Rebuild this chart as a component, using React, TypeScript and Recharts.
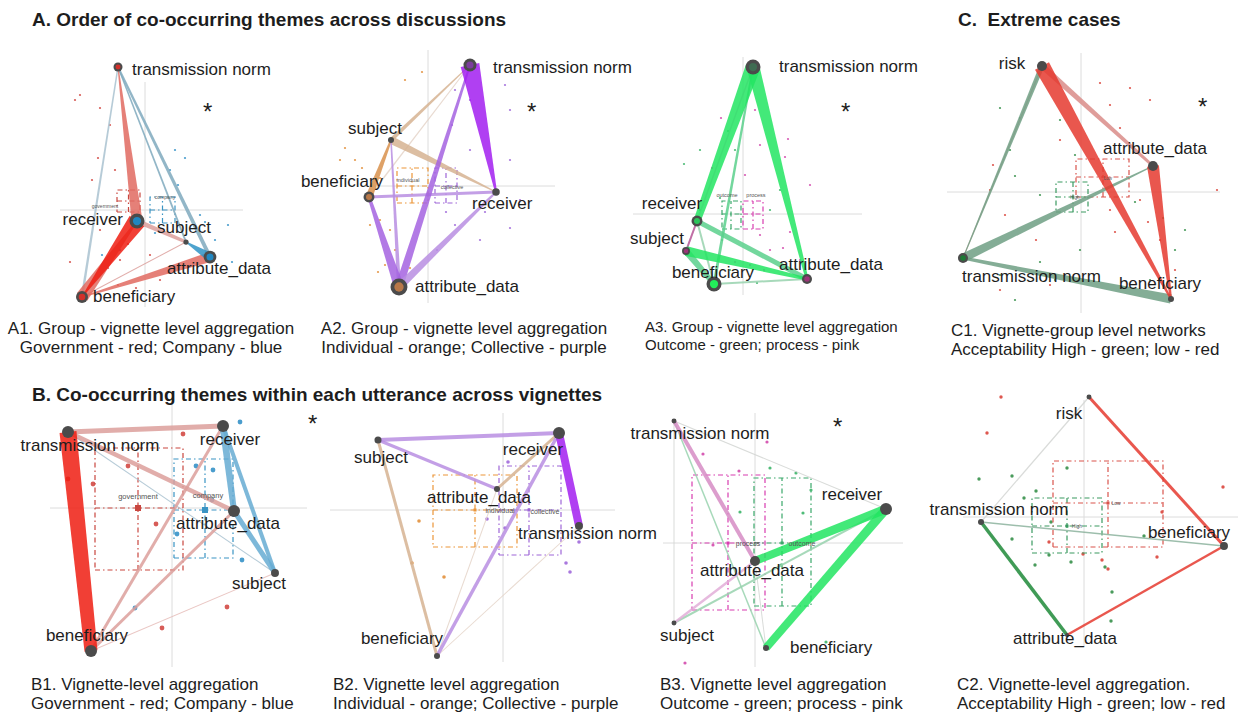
import React from 'react';
import { ScatterChart, Scatter, XAxis, YAxis } from 'recharts';

const FONT = '"Liberation Sans", Arial, Helvetica, sans-serif';
const PX_PER_UNIT = 100;
const NODE_SCALE = 0.75;

type NodeDatum = { id: string; x: number; y: number; strength: number; tone: string };
type EdgeDatum = { from: string; to: string; wFrom: number; wTo: number; tone: string };
type DotDatum = { x: number; y: number; tone: string };
type BoxDatum = {
  name: string; x1: number; x2: number; y1: number; y2: number;
  mx: number; my: number; lx: number; ly: number; tone: string;
};
type TagDatum = { id: string; x: number; y: number; anchor: 'start' | 'middle' | 'end' };

// ---------- colours ----------
const EDGE_COLOR: Record<string, string> = {
  gov: '#ef1d12', govSoft: '#e06a60', govPale: '#dc9f9b', govMist: '#e6bdba',
  com: '#2f93c6', comSoft: '#66acd2', comGray: '#7fa9bd', comMist: '#a9c2d0',
  ind: '#d8904c', indSoft: '#d6b392', indMist: '#e4d4c8',
  col: '#a21ff0', colSoft: '#a463e0', colPale: '#b88ee2',
  out: '#22e562', outSoft: '#5ad08c', outPale: '#98d2ae',
  pro: '#b8609a', proSoft: '#d68cc4', proPale: '#e2aed8',
  high: '#1f8a38', highSoft: '#6e9f84', highPale: '#8cb39d',
  low: '#e53a2f', lowSoft: '#d98c88', lowPale: '#e3aaa8',
  grey: '#d2d5d2',
};
const NODE_FILL: Record<string, string | null> = {
  ink: null,
  govNode: '#d2302a', comNode: '#2187c1',
  indNode: '#b87848', colNode: '#7c3d9c',
  outDark: '#3f6c52', outNode: '#2cc45c', outBright: '#22ee5a', proNode: '#9c3578',
  highNode: '#1c7a35',
};
const DOT_COLOR: Record<string, string> = {
  gov: '#d0403a', com: '#2a8cc4', ind: '#e08a30', col: '#9a60d8',
  out: '#30b060', pro: '#d040a8', high: '#2a8a40', low: '#d83a30',
};
const BOX_COLOR: Record<string, string> = {
  gov: '#c9463f', com: '#3a94c4', ind: '#ec9538', col: '#9e66d8',
  out: '#3aa86a', pro: '#d83cb0', high: '#3a9a60', low: '#d9544c',
};

// ---------- A1 ----------
const a1Nodes: NodeDatum[] = [
  { id: 'transmission norm', x: -0.27, y: 1.43, strength: 6, tone: 'govNode' },
  { id: 'receiver', x: -0.08, y: -0.11, strength: 10, tone: 'comNode' },
  { id: 'subject', x: 0.41, y: -0.32, strength: 3.5, tone: 'ink' },
  { id: 'attribute_data', x: 0.65, y: -0.47, strength: 8.5, tone: 'comNode' },
  { id: 'beneficiary', x: -0.63, y: -0.87, strength: 8, tone: 'govNode' },
];
const a1Edges: EdgeDatum[] = [
  { from: 'transmission norm', to: 'beneficiary', wFrom: 1.5, wTo: 2.5, tone: 'comMist' },
  { from: 'transmission norm', to: 'subject', wFrom: 1.5, wTo: 2, tone: 'comGray' },
  { from: 'transmission norm', to: 'attribute_data', wFrom: 2, wTo: 4, tone: 'comGray' },
  { from: 'transmission norm', to: 'receiver', wFrom: 1, wTo: 11, tone: 'govSoft' },
  { from: 'subject', to: 'beneficiary', wFrom: 1, wTo: 1, tone: 'govPale' },
  { from: 'attribute_data', to: 'beneficiary', wFrom: 10, wTo: 1, tone: 'govSoft' },
  { from: 'receiver', to: 'subject', wFrom: 5, wTo: 3, tone: 'govPale' },
  { from: 'subject', to: 'attribute_data', wFrom: 1, wTo: 9, tone: 'com' },
  { from: 'beneficiary', to: 'receiver', wFrom: 13, wTo: 2, tone: 'govSoft' },
  { from: 'receiver', to: 'beneficiary', wFrom: 18, wTo: 1, tone: 'gov' },
];
const a1Tags: TagDatum[] = [
  { id: 'transmission norm', x: -0.13, y: 1.41, anchor: 'start' },
  { id: 'receiver', x: -0.22, y: -0.09, anchor: 'end' },
  { id: 'subject', x: 0.12, y: -0.17, anchor: 'start' },
  { id: 'attribute_data', x: 0.22, y: -0.58, anchor: 'start' },
  { id: 'beneficiary', x: -0.52, y: -0.86, anchor: 'start' },
];
const a1Dots: DotDatum[] = [
  { x: -0.65, y: 1.15, tone: 'gov' }, { x: -0.7, y: 1.1, tone: 'gov' }, { x: -0.45, y: 1.02, tone: 'gov' },
  { x: -0.35, y: 0.85, tone: 'gov' }, { x: -0.47, y: 0.52, tone: 'gov' }, { x: -0.3, y: 0.4, tone: 'gov' },
  { x: -0.53, y: 0.3, tone: 'gov' }, { x: -0.45, y: -0.2, tone: 'gov' }, { x: -0.17, y: -0.34, tone: 'gov' },
  { x: -0.25, y: -0.5, tone: 'gov' }, { x: 0.15, y: -0.7, tone: 'gov' }, { x: -0.09, y: -0.78, tone: 'gov' },
  { x: -0.37, y: -0.58, tone: 'gov' }, { x: 0.05, y: -0.45, tone: 'gov' }, { x: -0.75, y: -0.52, tone: 'gov' },
  { x: -0.27, y: -0.75, tone: 'gov' },
  { x: 0.25, y: 0.4, tone: 'com' }, { x: 0.3, y: 0.6, tone: 'com' }, { x: 0.55, y: -0.05, tone: 'com' },
  { x: 0.6, y: -0.12, tone: 'com' }, { x: 0.4, y: 0.52, tone: 'com' }, { x: 0.1, y: -0.23, tone: 'com' },
  { x: 0.7, y: -0.3, tone: 'com' }, { x: 0.83, y: -0.15, tone: 'com' }, { x: -0.25, y: -0.4, tone: 'com' },
  { x: -0.43, y: -0.45, tone: 'com' }, { x: 0.33, y: 0.25, tone: 'com' }, { x: 0.87, y: -0.52, tone: 'com' },
];
const a1Boxes: BoxDatum[] = [
  { name: 'government', x1: -0.28, x2: -0.05, y1: -0.02, y2: 0.2, mx: -0.165, my: 0.09, lx: -0.4, ly: 0.04, tone: 'gov' },
  { name: 'company', x1: 0.05, x2: 0.3, y1: -0.13, y2: 0.13, mx: 0.175, my: 0.0, lx: 0.2, ly: 0.13, tone: 'com' },
];

// ---------- A2 ----------
const a2Nodes: NodeDatum[] = [
  { id: 'transmission norm', x: 0.42, y: 1.21, strength: 8.7, tone: 'colNode' },
  { id: 'subject', x: -0.37, y: 0.46, strength: 4, tone: 'ink' },
  { id: 'beneficiary', x: -0.59, y: -0.11, strength: 7.3, tone: 'indNode' },
  { id: 'receiver', x: 0.68, y: -0.06, strength: 5, tone: 'ink' },
  { id: 'attribute_data', x: -0.29, y: -1.01, strength: 11.3, tone: 'indNode' },
];
const a2Edges: EdgeDatum[] = [
  { from: 'transmission norm', to: 'beneficiary', wFrom: 1, wTo: 1.5, tone: 'indMist' },
  { from: 'transmission norm', to: 'subject', wFrom: 1, wTo: 4, tone: 'indSoft' },
  { from: 'subject', to: 'receiver', wFrom: 8, wTo: 1, tone: 'indSoft' },
  { from: 'subject', to: 'beneficiary', wFrom: 2, wTo: 7, tone: 'ind' },
  { from: 'beneficiary', to: 'receiver', wFrom: 3, wTo: 3, tone: 'colPale' },
  { from: 'subject', to: 'attribute_data', wFrom: 1.5, wTo: 4, tone: 'colPale' },
  { from: 'transmission norm', to: 'attribute_data', wFrom: 2, wTo: 8, tone: 'colSoft' },
  { from: 'receiver', to: 'attribute_data', wFrom: 2, wTo: 8, tone: 'colPale' },
  { from: 'beneficiary', to: 'attribute_data', wFrom: 3, wTo: 10, tone: 'colSoft' },
  { from: 'transmission norm', to: 'receiver', wFrom: 19, wTo: 2, tone: 'col' },
];
const a2Tags: TagDatum[] = [
  { id: 'transmission norm', x: 0.65, y: 1.19, anchor: 'start' },
  { id: 'subject', x: -0.53, y: 0.58, anchor: 'middle' },
  { id: 'beneficiary', x: -0.86, y: 0.05, anchor: 'middle' },
  { id: 'receiver', x: 0.44, y: -0.17, anchor: 'start' },
  { id: 'attribute_data', x: -0.13, y: -1.0, anchor: 'start' },
];
const a2Dots: DotDatum[] = [
  { x: -0.06, y: 1.14, tone: 'ind' }, { x: -0.23, y: 1.06, tone: 'ind' }, { x: -0.83, y: 0.38, tone: 'ind' },
  { x: -0.88, y: 0.26, tone: 'ind' }, { x: -0.73, y: 0.26, tone: 'ind' }, { x: -0.66, y: 0.18, tone: 'ind' },
  { x: -0.48, y: 0.08, tone: 'ind' }, { x: -0.48, y: -0.34, tone: 'ind' }, { x: -0.38, y: -0.44, tone: 'ind' },
  { x: -0.58, y: -0.39, tone: 'ind' }, { x: -0.33, y: -0.64, tone: 'ind' }, { x: -0.43, y: -0.79, tone: 'ind' },
  { x: -0.5, y: -0.86, tone: 'ind' }, { x: -0.18, y: -0.82, tone: 'ind' },
  { x: 0.27, y: 0.96, tone: 'col' }, { x: 0.42, y: 0.86, tone: 'col' }, { x: 0.77, y: 1.01, tone: 'col' },
  { x: 0.82, y: 0.76, tone: 'col' }, { x: 0.24, y: 0.61, tone: 'col' }, { x: 0.42, y: 0.36, tone: 'col' },
  { x: 0.82, y: 0.26, tone: 'col' }, { x: 0.18, y: -0.26, tone: 'col' }, { x: 0.27, y: -0.39, tone: 'col' },
  { x: 0.52, y: -0.54, tone: 'col' }, { x: 0.82, y: -0.42, tone: 'col' }, { x: 0.09, y: -0.64, tone: 'col' },
  { x: 0.57, y: -0.26, tone: 'col' }, { x: 0.92, y: -0.14, tone: 'col' },
];
const a2Boxes: BoxDatum[] = [
  { name: 'individual', x1: -0.31, x2: 0.0, y1: -0.17, y2: 0.18, mx: -0.16, my: 0, lx: -0.2, ly: 0.06, tone: 'ind' },
  { name: 'collective', x1: 0.07, x2: 0.29, y1: -0.17, y2: 0.18, mx: 0.18, my: 0, lx: 0.24, ly: -0.01, tone: 'col' },
];

// ---------- A3 ----------
const a3Nodes: NodeDatum[] = [
  { id: 'transmission norm', x: 0.1, y: 1.47, strength: 10, tone: 'outDark' },
  { id: 'receiver', x: -0.46, y: -0.07, strength: 7.3, tone: 'outNode' },
  { id: 'subject', x: -0.57, y: -0.37, strength: 5.3, tone: 'proNode' },
  { id: 'beneficiary', x: -0.29, y: -0.7, strength: 10, tone: 'outBright' },
  { id: 'attribute_data', x: 0.64, y: -0.65, strength: 6.7, tone: 'proNode' },
];
const a3Edges: EdgeDatum[] = [
  { from: 'transmission norm', to: 'subject', wFrom: 1.5, wTo: 1.5, tone: 'proPale' },
  { from: 'transmission norm', to: 'beneficiary', wFrom: 2, wTo: 3, tone: 'outSoft' },
  { from: 'receiver', to: 'subject', wFrom: 2, wTo: 2, tone: 'pro' },
  { from: 'receiver', to: 'beneficiary', wFrom: 2, wTo: 2, tone: 'outPale' },
  { from: 'beneficiary', to: 'attribute_data', wFrom: 2, wTo: 2, tone: 'outPale' },
  { from: 'receiver', to: 'attribute_data', wFrom: 5, wTo: 5, tone: 'outSoft' },
  { from: 'subject', to: 'beneficiary', wFrom: 7, wTo: 5, tone: 'outSoft' },
  { from: 'subject', to: 'attribute_data', wFrom: 10, wTo: 3, tone: 'out' },
  { from: 'transmission norm', to: 'attribute_data', wFrom: 13, wTo: 3, tone: 'out' },
  { from: 'transmission norm', to: 'receiver', wFrom: 15, wTo: 7, tone: 'out' },
];
const a3Tags: TagDatum[] = [
  { id: 'transmission norm', x: 0.36, y: 1.48, anchor: 'start' },
  { id: 'receiver', x: -0.71, y: 0.11, anchor: 'middle' },
  { id: 'subject', x: -0.86, y: -0.24, anchor: 'middle' },
  { id: 'beneficiary', x: -0.3, y: -0.58, anchor: 'middle' },
  { id: 'attribute_data', x: 0.88, y: -0.5, anchor: 'middle' },
];
const a3Dots: DotDatum[] = [
  { x: -0.22, y: 0.96, tone: 'pro' }, { x: 0.12, y: 1.04, tone: 'pro' }, { x: 0.45, y: 0.75, tone: 'pro' },
  { x: 0.17, y: 0.69, tone: 'pro' }, { x: 0.42, y: 0.57, tone: 'pro' }, { x: 0.67, y: 0.29, tone: 'pro' },
  { x: 0.02, y: 0.39, tone: 'pro' }, { x: -0.31, y: 0.46, tone: 'pro' }, { x: 0.17, y: -0.21, tone: 'pro' },
  { x: 0.47, y: -0.18, tone: 'pro' }, { x: 0.4, y: -0.34, tone: 'pro' }, { x: 0.57, y: -0.46, tone: 'pro' },
  { x: 0.07, y: -0.51, tone: 'pro' }, { x: -0.08, y: -0.48, tone: 'pro' }, { x: 0.21, y: -0.56, tone: 'pro' },
  { x: 0.27, y: -0.36, tone: 'pro' },
  { x: -0.59, y: 0.5, tone: 'out' }, { x: -0.43, y: 0.64, tone: 'out' }, { x: -0.15, y: 0.83, tone: 'out' },
  { x: -0.08, y: 0.64, tone: 'out' }, { x: -0.23, y: 0.16, tone: 'out' }, { x: -0.43, y: 0.04, tone: 'out' },
  { x: -0.21, y: -0.26, tone: 'out' }, { x: 0.27, y: 0.04, tone: 'out' }, { x: 0.37, y: 0.24, tone: 'out' },
  { x: -0.13, y: -0.56, tone: 'out' }, { x: 0.14, y: -0.69, tone: 'out' },
];
const a3Boxes: BoxDatum[] = [
  { name: 'outcome', x1: -0.21, x2: -0.02, y1: -0.15, y2: 0.13, mx: -0.12, my: 0, lx: -0.16, ly: 0.19, tone: 'out' },
  { name: 'process', x1: 0.0, x2: 0.2, y1: -0.15, y2: 0.13, mx: 0.1, my: 0, lx: 0.13, ly: 0.19, tone: 'pro' },
];

// ---------- C1 ----------
const c1Nodes: NodeDatum[] = [
  { id: 'risk', x: -0.39, y: 1.26, strength: 6.7, tone: 'ink' },
  { id: 'attribute_data', x: 0.72, y: 0.26, strength: 6.7, tone: 'ink' },
  { id: 'transmission norm', x: -1.18, y: -0.66, strength: 6.7, tone: 'highNode' },
  { id: 'beneficiary', x: 0.9, y: -1.07, strength: 4, tone: 'ink' },
];
const c1Edges: EdgeDatum[] = [
  { from: 'transmission norm', to: 'risk', wFrom: 1, wTo: 1.5, tone: 'lowPale' },
  { from: 'risk', to: 'transmission norm', wFrom: 5, wTo: 1, tone: 'highSoft' },
  { from: 'transmission norm', to: 'attribute_data', wFrom: 9, wTo: 1, tone: 'highSoft' },
  { from: 'beneficiary', to: 'transmission norm', wFrom: 9, wTo: 3, tone: 'highSoft' },
  { from: 'risk', to: 'attribute_data', wFrom: 6, wTo: 3, tone: 'lowSoft' },
  { from: 'attribute_data', to: 'beneficiary', wFrom: 12, wTo: 2, tone: 'low' },
  { from: 'risk', to: 'beneficiary', wFrom: 16, wTo: 2, tone: 'low' },
];
const c1Tags: TagDatum[] = [
  { id: 'risk', x: -0.69, y: 1.29, anchor: 'middle' },
  { id: 'attribute_data', x: 0.74, y: 0.44, anchor: 'middle' },
  { id: 'transmission norm', x: -1.19, y: -0.84, anchor: 'start' },
  { id: 'beneficiary', x: 0.79, y: -0.91, anchor: 'middle' },
];
const c1Dots: DotDatum[] = [
  { x: 0.19, y: 1.09, tone: 'low' }, { x: 0.29, y: 0.87, tone: 'low' }, { x: 0.49, y: 1.04, tone: 'low' },
  { x: 0.69, y: 0.92, tone: 'low' }, { x: 0.39, y: 0.64, tone: 'low' }, { x: -0.21, y: 0.52, tone: 'low' },
  { x: -0.88, y: 0.27, tone: 'low' }, { x: -0.91, y: 0.02, tone: 'low' }, { x: 0.29, y: -0.18, tone: 'low' },
  { x: 0.34, y: -0.4, tone: 'low' }, { x: 0.67, y: -0.3, tone: 'low' }, { x: 0.79, y: -0.48, tone: 'low' },
  { x: 0.94, y: -0.78, tone: 'low' }, { x: -0.45, y: -0.48, tone: 'low' }, { x: -0.76, y: -0.23, tone: 'low' },
  { x: -0.81, y: -0.98, tone: 'low' }, { x: -0.31, y: -0.93, tone: 'low' }, { x: 0.59, y: -0.08, tone: 'low' },
  { x: 1.36, y: 0.02, tone: 'low' },
  { x: -0.81, y: 0.84, tone: 'high' }, { x: -0.61, y: 0.74, tone: 'high' }, { x: -0.21, y: 0.72, tone: 'high' },
  { x: -0.71, y: 0.42, tone: 'high' }, { x: -0.06, y: 0.37, tone: 'high' }, { x: -0.66, y: 0.16, tone: 'high' },
  { x: -0.41, y: -0.03, tone: 'high' }, { x: 0.54, y: -0.1, tone: 'high' }, { x: 0.82, y: -0.26, tone: 'high' },
  { x: 1.04, y: -0.38, tone: 'high' }, { x: 0.94, y: -0.58, tone: 'high' }, { x: -0.01, y: -0.58, tone: 'high' },
  { x: -0.41, y: -0.7, tone: 'high' }, { x: -0.26, y: -0.88, tone: 'high' }, { x: -0.81, y: -0.83, tone: 'high' },
  { x: -0.66, y: -1.08, tone: 'high' }, { x: 0.69, y: -0.88, tone: 'high' },
];
const c1Boxes: BoxDatum[] = [
  { name: 'Low', x1: -0.05, x2: 0.48, y1: -0.05, y2: 0.33, mx: 0.22, my: 0.15, lx: 0.27, ly: 0.14, tone: 'low' },
  { name: 'High', x1: -0.25, x2: 0.07, y1: -0.2, y2: 0.1, mx: -0.08, my: -0.05, lx: -0.06, ly: -0.05, tone: 'high' },
];

// ---------- B1 ----------
const b1Nodes: NodeDatum[] = [
  { id: 'transmission norm', x: -1.04, y: 0.76, strength: 8, tone: 'ink' },
  { id: 'receiver', x: 0.51, y: 0.82, strength: 8, tone: 'ink' },
  { id: 'attribute_data', x: 0.62, y: -0.03, strength: 8, tone: 'ink' },
  { id: 'subject', x: 1.03, y: -0.65, strength: 5.3, tone: 'ink' },
  { id: 'beneficiary', x: -0.81, y: -1.43, strength: 8, tone: 'ink' },
];
const b1Edges: EdgeDatum[] = [
  { from: 'transmission norm', to: 'subject', wFrom: 1, wTo: 1, tone: 'comMist' },
  { from: 'subject', to: 'beneficiary', wFrom: 1, wTo: 1, tone: 'govMist' },
  { from: 'receiver', to: 'beneficiary', wFrom: 3, wTo: 3, tone: 'govPale' },
  { from: 'attribute_data', to: 'beneficiary', wFrom: 3, wTo: 3, tone: 'govPale' },
  { from: 'transmission norm', to: 'attribute_data', wFrom: 4.5, wTo: 4.5, tone: 'govPale' },
  { from: 'transmission norm', to: 'receiver', wFrom: 5, wTo: 5, tone: 'govPale' },
  { from: 'receiver', to: 'subject', wFrom: 4, wTo: 4, tone: 'comSoft' },
  { from: 'attribute_data', to: 'subject', wFrom: 5, wTo: 5, tone: 'comSoft' },
  { from: 'receiver', to: 'attribute_data', wFrom: 7, wTo: 6, tone: 'comSoft' },
  { from: 'transmission norm', to: 'beneficiary', wFrom: 17, wTo: 13, tone: 'gov' },
];
const b1Tags: TagDatum[] = [
  { id: 'transmission norm', x: -0.82, y: 0.63, anchor: 'middle' },
  { id: 'receiver', x: 0.58, y: 0.69, anchor: 'middle' },
  { id: 'attribute_data', x: 0.56, y: -0.15, anchor: 'middle' },
  { id: 'subject', x: 0.87, y: -0.75, anchor: 'middle' },
  { id: 'beneficiary', x: -0.85, y: -1.27, anchor: 'middle' },
];
const b1Dots: DotDatum[] = [
  { x: 0.11, y: 0.74, tone: 'gov' }, { x: -0.44, y: 0.42, tone: 'gov' }, { x: -0.79, y: 0.24, tone: 'gov' },
  { x: -1.04, y: 0.29, tone: 'gov' }, { x: -0.16, y: -0.16, tone: 'gov' }, { x: 0.55, y: -0.99, tone: 'gov' },
  { x: -0.1, y: -1.2, tone: 'gov' },
  { x: 0.68, y: 0.86, tone: 'com' }, { x: 0.24, y: 0.42, tone: 'com' }, { x: 0.41, y: 0.38, tone: 'com' },
  { x: 0.4, y: 0.08, tone: 'com' }, { x: 0.05, y: -0.26, tone: 'com' }, { x: 0.7, y: -0.52, tone: 'com' },
  { x: -0.37, y: -1.0, tone: 'com' },
];
const b1Boxes: BoxDatum[] = [
  { name: 'government', x1: -0.77, x2: 0.11, y1: -0.62, y2: 0.6, mx: -0.34, my: 0, lx: -0.34, ly: 0.12, tone: 'gov' },
  { name: 'company', x1: 0.02, x2: 0.61, y1: -0.5, y2: 0.49, mx: 0.33, my: -0.02, lx: 0.36, ly: 0.13, tone: 'com' },
];

// ---------- B2 ----------
const b2Nodes: NodeDatum[] = [
  { id: 'subject', x: -1.25, y: 0.7, strength: 4.7, tone: 'ink' },
  { id: 'receiver', x: 0.56, y: 0.77, strength: 8, tone: 'ink' },
  { id: 'attribute_data', x: -0.06, y: 0.21, strength: 4, tone: 'ink' },
  { id: 'transmission norm', x: 0.76, y: -0.16, strength: 5.3, tone: 'ink' },
  { id: 'beneficiary', x: -0.66, y: -1.46, strength: 4, tone: 'ink' },
];
const b2Edges: EdgeDatum[] = [
  { from: 'attribute_data', to: 'beneficiary', wFrom: 1, wTo: 1, tone: 'indMist' },
  { from: 'transmission norm', to: 'beneficiary', wFrom: 1, wTo: 1, tone: 'indMist' },
  { from: 'subject', to: 'beneficiary', wFrom: 3, wTo: 3, tone: 'indSoft' },
  { from: 'attribute_data', to: 'receiver', wFrom: 3, wTo: 3, tone: 'indSoft' },
  { from: 'subject', to: 'attribute_data', wFrom: 3, wTo: 3, tone: 'colPale' },
  { from: 'receiver', to: 'beneficiary', wFrom: 3.5, wTo: 3.5, tone: 'colPale' },
  { from: 'subject', to: 'receiver', wFrom: 4, wTo: 4, tone: 'colPale' },
  { from: 'receiver', to: 'transmission norm', wFrom: 8, wTo: 8, tone: 'col' },
];
const b2Tags: TagDatum[] = [
  { id: 'subject', x: -1.22, y: 0.53, anchor: 'middle' },
  { id: 'receiver', x: 0.3, y: 0.61, anchor: 'middle' },
  { id: 'attribute_data', x: -0.24, y: 0.13, anchor: 'middle' },
  { id: 'transmission norm', x: 0.15, y: -0.23, anchor: 'start' },
  { id: 'beneficiary', x: -1.01, y: -1.28, anchor: 'middle' },
];
const b2Dots: DotDatum[] = [
  { x: -0.84, y: -0.11, tone: 'ind' }, { x: -0.91, y: -0.53, tone: 'ind' }, { x: -0.59, y: -0.67, tone: 'ind' },
  { x: 0.05, y: 0.48, tone: 'col' }, { x: -0.16, y: -0.09, tone: 'col' }, { x: 0.02, y: -0.18, tone: 'col' },
  { x: 0.63, y: -0.53, tone: 'col' }, { x: 0.67, y: -0.62, tone: 'col' }, { x: 0.76, y: -0.32, tone: 'col' },
];
const b2Boxes: BoxDatum[] = [
  { name: 'individual', x1: -0.7, x2: 0.14, y1: -0.37, y2: 0.35, mx: -0.28, my: 0, lx: -0.03, ly: 0, tone: 'ind' },
  { name: 'collective', x1: -0.04, x2: 0.58, y1: -0.45, y2: 0.44, mx: 0.26, my: 0, lx: 0.42, ly: -0.01, tone: 'col' },
];

// ---------- B3 ----------
const b3Nodes: NodeDatum[] = [
  { id: 'transmission norm', x: -0.81, y: 1.22, strength: 3.3, tone: 'ink' },
  { id: 'receiver', x: 1.31, y: 0.34, strength: 8, tone: 'ink' },
  { id: 'attribute_data', x: 0.0, y: -0.18, strength: 6.7, tone: 'ink' },
  { id: 'subject', x: -0.81, y: -0.8, strength: 3.3, tone: 'ink' },
  { id: 'beneficiary', x: 0.11, y: -1.05, strength: 4, tone: 'ink' },
];
const b3Edges: EdgeDatum[] = [
  { from: 'transmission norm', to: 'subject', wFrom: 1, wTo: 1, tone: 'grey' },
  { from: 'transmission norm', to: 'receiver', wFrom: 1, wTo: 1, tone: 'grey' },
  { from: 'attribute_data', to: 'beneficiary', wFrom: 1, wTo: 1, tone: 'grey' },
  { from: 'transmission norm', to: 'beneficiary', wFrom: 1.5, wTo: 1.5, tone: 'outPale' },
  { from: 'subject', to: 'receiver', wFrom: 2, wTo: 2, tone: 'outPale' },
  { from: 'subject', to: 'attribute_data', wFrom: 2.5, wTo: 2.5, tone: 'proPale' },
  { from: 'transmission norm', to: 'attribute_data', wFrom: 4, wTo: 4, tone: 'proSoft' },
  { from: 'receiver', to: 'beneficiary', wFrom: 9, wTo: 8, tone: 'out' },
  { from: 'attribute_data', to: 'receiver', wFrom: 8, wTo: 9, tone: 'out' },
];
const b3Tags: TagDatum[] = [
  { id: 'transmission norm', x: -0.55, y: 1.1, anchor: 'middle' },
  { id: 'receiver', x: 0.97, y: 0.49, anchor: 'middle' },
  { id: 'attribute_data', x: -0.03, y: -0.27, anchor: 'middle' },
  { id: 'subject', x: -0.68, y: -0.92, anchor: 'middle' },
  { id: 'beneficiary', x: 0.35, y: -1.04, anchor: 'start' },
];
const b3Dots: DotDatum[] = [
  { x: 0.12, y: 1.01, tone: 'pro' }, { x: -0.52, y: 0.89, tone: 'pro' }, { x: -0.16, y: 0.72, tone: 'pro' },
  { x: -0.7, y: -1.2, tone: 'pro' }, { x: -0.42, y: -0.02, tone: 'pro' },
  { x: -0.15, y: 0.31, tone: 'out' }, { x: 0.48, y: 0.3, tone: 'out' }, { x: 0.56, y: 0.53, tone: 'out' },
  { x: 0.41, y: 0.7, tone: 'out' }, { x: 0.26, y: -0.22, tone: 'out' }, { x: 0.71, y: -0.99, tone: 'out' },
  { x: 0.15, y: 0.75, tone: 'out' },
];
const b3Boxes: BoxDatum[] = [
  { name: 'process', x1: -0.63, x2: 0.1, y1: -0.67, y2: 0.68, mx: -0.27, my: 0, lx: -0.07, ly: 0, tone: 'pro' },
  { name: 'outcome', x1: -0.01, x2: 0.56, y1: -0.63, y2: 0.65, mx: 0.27, my: 0, lx: 0.47, ly: 0, tone: 'out' },
];

// ---------- C2 ----------
const c2Nodes: NodeDatum[] = [
  { id: 'risk', x: 0.05, y: 1.2, strength: 3.3, tone: 'ink' },
  { id: 'transmission norm', x: -1.03, y: -0.05, strength: 4, tone: 'ink' },
  { id: 'beneficiary', x: 1.4, y: -0.29, strength: 5.3, tone: 'ink' },
  { id: 'attribute_data', x: -0.17, y: -1.18, strength: 2.7, tone: 'ink' },
];
const c2Edges: EdgeDatum[] = [
  { from: 'transmission norm', to: 'risk', wFrom: 1.2, wTo: 1.2, tone: 'grey' },
  { from: 'transmission norm', to: 'beneficiary', wFrom: 1.5, wTo: 1.5, tone: 'highPale' },
  { from: 'transmission norm', to: 'attribute_data', wFrom: 3.5, wTo: 3.5, tone: 'high' },
  { from: 'risk', to: 'beneficiary', wFrom: 3, wTo: 3, tone: 'low' },
  { from: 'beneficiary', to: 'attribute_data', wFrom: 2.5, wTo: 2.5, tone: 'low' },
];
const c2Tags: TagDatum[] = [
  { id: 'risk', x: -0.15, y: 1.04, anchor: 'middle' },
  { id: 'transmission norm', x: -0.85, y: 0.08, anchor: 'middle' },
  { id: 'beneficiary', x: 1.05, y: -0.15, anchor: 'middle' },
  { id: 'attribute_data', x: -0.19, y: -1.21, anchor: 'middle' },
];
const c2Dots: DotDatum[] = [
  { x: -0.83, y: 1.2, tone: 'low' }, { x: -0.97, y: 0.84, tone: 'low' }, { x: 1.39, y: 0.3, tone: 'low' },
  { x: -0.35, y: -0.25, tone: 'low' }, { x: -0.01, y: -0.37, tone: 'low' }, { x: 0.18, y: -0.43, tone: 'low' },
  { x: 0.24, y: -0.52, tone: 'low' }, { x: 0.73, y: -0.4, tone: 'low' }, { x: 0.78, y: 0.05, tone: 'low' },
  { x: -0.17, y: 0.49, tone: 'high' }, { x: -1.05, y: 0.38, tone: 'high' }, { x: -0.72, y: 0.41, tone: 'high' },
  { x: -0.48, y: 0.26, tone: 'high' }, { x: -0.6, y: 0.19, tone: 'high' }, { x: -0.33, y: -0.05, tone: 'high' },
  { x: -0.72, y: -0.22, tone: 'high' }, { x: -0.49, y: -0.48, tone: 'high' }, { x: -0.13, y: -0.45, tone: 'high' },
  { x: 0.28, y: -0.75, tone: 'high' }, { x: 0.27, y: -1.04, tone: 'high' }, { x: 0.6, y: -0.19, tone: 'high' },
  { x: -0.35, y: -0.38, tone: 'high' }, { x: 0.21, y: -0.5, tone: 'high' },
];
const c2Boxes: BoxDatum[] = [
  { name: 'Low', x1: -0.31, x2: 0.79, y1: -0.3, y2: 0.56, mx: 0.24, my: 0.14, lx: 0.32, ly: 0.14, tone: 'low' },
  { name: 'High', x1: -0.52, x2: 0.18, y1: -0.36, y2: 0.19, mx: -0.17, my: -0.09, lx: -0.07, ly: -0.09, tone: 'high' },
];

// ---------- page text ----------
const TITLES = [
  { text: 'A. Order of co-occurring themes across discussions', left: 32, top: 9 },
  { text: 'C.  Extreme cases', left: 958, top: 9 },
  { text: 'B. Co-occurring themes within each utterance across vignettes', left: 32, top: 384 },
];
const CAPTIONS = [
  { lines: ['A1. Group - vignette level aggregation', 'Government - red; Company - blue'], left: 0, width: 302, top: 318.5, align: 'center', size: 17, lh: 19 },
  { lines: ['A2. Group - vignette level aggregation', 'Individual - orange; Collective - purple'], left: 313, width: 302, top: 318.5, align: 'center', size: 17, lh: 19 },
  { lines: ['A3. Group - vignette level aggregation', 'Outcome - green; process - pink'], left: 645, width: 290, top: 318, align: 'left', size: 15, lh: 18 },
  { lines: ['C1. Vignette-group level networks', 'Acceptability High - green; low - red'], left: 951, width: 287, top: 320.5, align: 'left', size: 17, lh: 19 },
  { lines: ['B1. Vignette-level aggregation', 'Government - red; Company - blue'], left: 31, width: 290, top: 674.5, align: 'left', size: 17, lh: 19 },
  { lines: ['B2. Vignette level aggregation', 'Individual - orange; Collective - purple'], left: 333, width: 290, top: 674.5, align: 'left', size: 17, lh: 19 },
  { lines: ['B3. Vignette level aggregation', 'Outcome - green; process - pink'], left: 660, width: 280, top: 674.5, align: 'left', size: 17, lh: 19 },
  { lines: ['C2. Vignette-level aggregation.', 'Acceptability High - green; low - red'], left: 957, width: 281, top: 674.5, align: 'left', size: 17, lh: 19 },
];
const STARS = [
  { x: 208, y: 107 }, { x: 532, y: 107 }, { x: 846, y: 107 }, { x: 1203, y: 102 },
  { x: 313, y: 419 }, { x: 838, y: 422 },
];

type PanelSpec = {
  frame: { left: number; top: number; width: number; height: number; ox: number; oy: number };
  cross: { x0: number; x1: number; y0: number; y1: number };
  nodes: NodeDatum[]; edges: EdgeDatum[]; dots: DotDatum[]; boxes: BoxDatum[]; tags: TagDatum[];
  dotR: number; boxFont: number; markSize: number;
};

const PANELS: PanelSpec[] = [
  { frame: { left: 0, top: 40, width: 310, height: 275, ox: 145, oy: 210 }, cross: { x0: -0.85, x1: 0.98, y0: -0.97, y1: 1.28 },
    nodes: a1Nodes, edges: a1Edges, dots: a1Dots, boxes: a1Boxes, tags: a1Tags, dotR: 1.1, boxFont: 5, markSize: 0 },
  { frame: { left: 290, top: 40, width: 350, height: 275, ox: 428, oy: 186 }, cross: { x0: -0.63, x1: 1.27, y0: -1.17, y1: 1.36 },
    nodes: a2Nodes, edges: a2Edges, dots: a2Dots, boxes: a2Boxes, tags: a2Tags, dotR: 1.1, boxFont: 5.5, markSize: 0 },
  { frame: { left: 620, top: 40, width: 315, height: 275, ox: 743, oy: 214 }, cross: { x0: -1.1, x1: 1.19, y0: -0.81, y1: 1.57 },
    nodes: a3Nodes, edges: a3Edges, dots: a3Dots, boxes: a3Boxes, tags: a3Tags, dotR: 1.1, boxFont: 5.5, markSize: 0 },
  { frame: { left: 935, top: 40, width: 300, height: 275, ox: 1081, oy: 192 }, cross: { x0: -1.34, x1: 1.39, y0: -1.21, y1: 1.39 },
    nodes: c1Nodes, edges: c1Edges, dots: c1Dots, boxes: c1Boxes, tags: c1Tags, dotR: 1.1, boxFont: 4.5, markSize: 1.5 },
  { frame: { left: 0, top: 405, width: 320, height: 265, ox: 172, oy: 508 }, cross: { x0: -1.22, x1: 1.35, y0: -1.59, y1: 1.05 },
    nodes: b1Nodes, edges: b1Edges, dots: b1Dots, boxes: b1Boxes, tags: b1Tags, dotR: 2.4, boxFont: 7.5, markSize: 6 },
  { frame: { left: 320, top: 405, width: 345, height: 265, ox: 503, oy: 510 }, cross: { x0: -1.73, x1: 1.12, y0: -1.52, y1: 0.97 },
    nodes: b2Nodes, edges: b2Edges, dots: b2Dots, boxes: b2Boxes, tags: b2Tags, dotR: 1.8, boxFont: 7, markSize: 3 },
  { frame: { left: 625, top: 405, width: 310, height: 265, ox: 755, oy: 543 }, cross: { x0: -0.92, x1: 1.48, y0: -1.24, y1: 1.3 },
    nodes: b3Nodes, edges: b3Edges, dots: b3Dots, boxes: b3Boxes, tags: b3Tags, dotR: 1.6, boxFont: 7, markSize: 3 },
  { frame: { left: 915, top: 385, width: 323, height: 280, ox: 1084, oy: 517 }, cross: { x0: -1.21, x1: 1.54, y0: -1.3, y1: 1.17 },
    nodes: c2Nodes, edges: c2Edges, dots: c2Dots, boxes: c2Boxes, tags: c2Tags, dotR: 1.7, boxFont: 5, markSize: 3 },
];

// ---------- glyphs ----------
const Hidden = () => <g />;

// A directed edge drawn as a band that narrows or widens from its source to its target.
const taperedEdge = (e: EdgeDatum) => (props: any) => {
  const pts = props.points;
  if (!pts || pts.length < 2) return <g />;
  const a = pts[0];
  const b = pts[1];
  const dx = b.x - a.x;
  const dy = b.y - a.y;
  const len = Math.hypot(dx, dy) || 1;
  const nx = -dy / len;
  const ny = dx / len;
  const h0 = e.wFrom / 2;
  const h1 = e.wTo / 2;
  const d = `M${a.x + nx * h0},${a.y + ny * h0}L${b.x + nx * h1},${b.y + ny * h1}` +
    `L${b.x - nx * h1},${b.y - ny * h1}L${a.x - nx * h0},${a.y - ny * h0}Z`;
  return <path d={d} fill={EDGE_COLOR[e.tone]} fillOpacity={0.85} stroke="none" />;
};

const NodeGlyph = (p: any) => {
  const r = p.payload.strength * NODE_SCALE;
  const inner = NODE_FILL[p.payload.tone];
  return (
    <g>
      <circle cx={p.cx} cy={p.cy} r={r} fill="#4b4b4b" />
      {inner ? <circle cx={p.cx} cy={p.cy} r={r * 0.55} fill={inner} /> : null}
    </g>
  );
};

const TagGlyph = (p: any) => (
  <text x={p.cx} y={p.cy} textAnchor={p.payload.anchor} dominantBaseline="central"
    fontSize={17} fontFamily={FONT} fill="#1d1d1d">{p.payload.id}</text>
);

function Panel({ spec }: { spec: PanelSpec }) {
  const { frame, cross, nodes, edges, dots, boxes, tags, dotR, boxFont, markSize } = spec;
  const { left, top, width, height, ox, oy } = frame;
  const xDomain = [(left - ox) / PX_PER_UNIT, (left + width - ox) / PX_PER_UNIT];
  const yDomain = [(oy - top - height) / PX_PER_UNIT, (oy - top) / PX_PER_UNIT];
  const byId = new Map(nodes.map((n) => [n.id, n]));
  const dotTones = Array.from(new Set(dots.map((d) => d.tone)));
  const dash = '5 3 1.5 3';

  const dotGlyph = (tone: string) => (p: any) => (
    <circle cx={p.cx} cy={p.cy} r={dotR} fill={DOT_COLOR[tone]} fillOpacity={0.85} />
  );
  const markGlyph = (p: any) => markSize > 0 ? (
    <rect x={p.cx - markSize / 2} y={p.cy - markSize / 2} width={markSize} height={markSize}
      fill={BOX_COLOR[p.payload.tone]} />
  ) : <g />;
  const boxLabel = (p: any) => (
    <text x={p.cx} y={p.cy} textAnchor="middle" dominantBaseline="central" fontSize={boxFont}
      fontFamily={FONT} fill="#555">{p.payload.name}</text>
  );

  return (
    <div style={{ position: 'absolute', left, top, width, height }}>
      <ScatterChart width={width} height={height} margin={{ top: 0, right: 0, bottom: 0, left: 0 }}>
        <XAxis type="number" dataKey="x" domain={xDomain} hide allowDataOverflow />
        <YAxis type="number" dataKey="y" domain={yDomain} hide allowDataOverflow />
        <Scatter data={[{ x: 0, y: cross.y0 }, { x: 0, y: cross.y1 }]} shape={Hidden}
          line={{ stroke: '#dcdcdc', strokeWidth: 1 }} isAnimationActive={false} />
        <Scatter data={[{ x: cross.x0, y: 0 }, { x: cross.x1, y: 0 }]} shape={Hidden}
          line={{ stroke: '#dcdcdc', strokeWidth: 1 }} isAnimationActive={false} />
        {dotTones.map((t) => (
          <Scatter key={`d-${t}`} data={dots.filter((d) => d.tone === t)} shape={dotGlyph(t)} isAnimationActive={false} />
        ))}
        {boxes.map((b) => (
          <Scatter key={`bo-${b.name}`} shape={Hidden} isAnimationActive={false}
            data={[{ x: b.x1, y: b.y1 }, { x: b.x2, y: b.y1 }, { x: b.x2, y: b.y2 }, { x: b.x1, y: b.y2 }, { x: b.x1, y: b.y1 }]}
            line={{ stroke: BOX_COLOR[b.tone], strokeWidth: 1.2, strokeDasharray: dash }} />
        ))}
        {boxes.map((b) => (
          <Scatter key={`bv-${b.name}`} shape={Hidden} isAnimationActive={false}
            data={[{ x: b.mx, y: b.y1 }, { x: b.mx, y: b.y2 }]}
            line={{ stroke: BOX_COLOR[b.tone], strokeWidth: 1.2, strokeDasharray: dash }} />
        ))}
        {boxes.map((b) => (
          <Scatter key={`bh-${b.name}`} shape={Hidden} isAnimationActive={false}
            data={[{ x: b.x1, y: b.my }, { x: b.x2, y: b.my }]}
            line={{ stroke: BOX_COLOR[b.tone], strokeWidth: 1.2, strokeDasharray: dash }} />
        ))}
        <Scatter data={boxes.map((b) => ({ x: b.mx, y: b.my, tone: b.tone }))} shape={markGlyph} isAnimationActive={false} />
        {edges.map((e, i) => {
          const a = byId.get(e.from)!;
          const b = byId.get(e.to)!;
          return (
            <Scatter key={`e-${i}`} data={[{ x: a.x, y: a.y }, { x: b.x, y: b.y }]}
              shape={Hidden} line={taperedEdge(e)} isAnimationActive={false} />
          );
        })}
        <Scatter data={nodes} shape={NodeGlyph} isAnimationActive={false} />
        <Scatter data={boxes.map((b) => ({ x: b.lx, y: b.ly, name: b.name }))} shape={boxLabel} isAnimationActive={false} />
        <Scatter data={tags} shape={TagGlyph} isAnimationActive={false} />
      </ScatterChart>
    </div>
  );
}

export default function App() {
  return (
    <div style={{ position: 'absolute', left: 0, top: 0, width: 1238, height: 713, background: '#fff', fontFamily: FONT, color: '#1d1d1d', overflow: 'hidden' }}>
      {TITLES.map((t) => (
        <div key={t.text} style={{ position: 'absolute', left: t.left, top: t.top, fontSize: 19, lineHeight: '22px', fontWeight: 700, whiteSpace: 'pre' }}>{t.text}</div>
      ))}
      {PANELS.map((p, i) => <Panel key={i} spec={p} />)}
      {STARS.map((s, i) => (
        <div key={i} style={{ position: 'absolute', left: s.x - 5, top: s.y - 7, fontSize: 24, lineHeight: '24px' }}>*</div>
      ))}
      {CAPTIONS.map((c, i) => (
        <div key={i} style={{ position: 'absolute', left: c.left, top: c.top, width: c.width, textAlign: c.align as any, fontSize: c.size, lineHeight: `${c.lh}px`, whiteSpace: 'nowrap' }}>
          {c.lines.map((l) => <div key={l}>{l}</div>)}
        </div>
      ))}
    </div>
  );
}
